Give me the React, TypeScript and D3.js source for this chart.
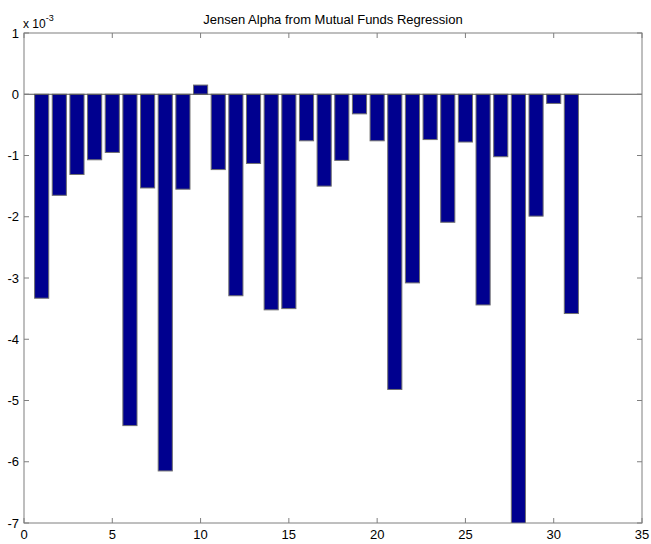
import React from "react";
import * as d3 from "d3";

const fundIndex: number[] = Array.from({ length: 31 }, (_, i) => i + 1);
const alphaValues: number[] = [
  -3.33, -1.65, -1.31, -1.07, -0.95, -5.41, -1.53, -6.15, -1.55, 0.15,
  -1.23, -3.29, -1.13, -3.52, -3.5, -0.76, -1.5, -1.08, -0.32, -0.76,
  -4.82, -3.08, -0.74, -2.09, -0.78, -3.44, -1.02, -7.3, -1.99, -0.15,
  -3.58,
];
const xTicks: number[] = [0, 5, 10, 15, 20, 25, 30, 35];
const yTicks: number[] = [1, 0, -1, -2, -3, -4, -5, -6, -7];
const titleText = "Jensen Alpha from Mutual Funds Regression";

const W = 651;
const H = 544;
const M = { left: 24, right: 642, top: 33, bottom: 523 };
const FONT = "'Liberation Sans', Arial, Helvetica, sans-serif";

export default function App() {
  const x = d3.scaleLinear().domain([0, 35]).range([M.left, M.right]);
  const y = d3.scaleLinear().domain([-7, 1]).range([M.bottom, M.top]);
  const barW = (x(1) - x(0)) * 0.8;
  const axisColor = "#7f7f7f";
  const tickLen = 5;

  return (
    <svg
      width={W}
      height={H}
      style={{ position: "absolute", left: 0, top: 0, background: "#fff" }}
      fontFamily={FONT}
    >
      <defs>
        <clipPath id="plotClip">
          <rect x={M.left} y={M.top} width={M.right - M.left} height={M.bottom - M.top} />
        </clipPath>
      </defs>
      <rect x={0} y={0} width={W} height={H} fill="#fff" />
      <g clipPath="url(#plotClip)">
        {fundIndex.map((f, i) => {
          const v = alphaValues[i];
          const y0 = y(0);
          const y1 = y(v);
          return (
            <rect
              key={f}
              x={x(f) - barW / 2}
              y={Math.min(y0, y1)}
              width={barW}
              height={Math.abs(y1 - y0)}
              fill="#00008f"
              stroke="#707070"
              strokeWidth={1}
            />
          );
        })}
        <line x1={M.left} x2={M.right} y1={y(0)} y2={y(0)} stroke="#555" strokeWidth={1} />
      </g>
      <rect
        x={M.left}
        y={M.top}
        width={M.right - M.left}
        height={M.bottom - M.top}
        fill="none"
        stroke={axisColor}
        strokeWidth={1}
      />
      {xTicks.map((t) => (
        <g key={"x" + t}>
          <line x1={x(t)} x2={x(t)} y1={M.bottom} y2={M.bottom - tickLen} stroke={axisColor} />
          <line x1={x(t)} x2={x(t)} y1={M.top} y2={M.top + tickLen} stroke={axisColor} />
          <text x={x(t)} y={539} textAnchor="middle" fontSize={13} fill="#000">
            {t}
          </text>
        </g>
      ))}
      {yTicks.map((t) => (
        <g key={"y" + t}>
          <line x1={M.left} x2={M.left + tickLen} y1={y(t)} y2={y(t)} stroke={axisColor} />
          <line x1={M.right} x2={M.right - tickLen} y1={y(t)} y2={y(t)} stroke={axisColor} />
          <text x={19} y={y(t) + 4.5} textAnchor="end" fontSize={13} fill="#000">
            {t}
          </text>
        </g>
      ))}
      <text x={23} y={28} fontSize={12} fill="#000">
        x 10
        <tspan dy={-7} fontSize={9}>
          -3
        </tspan>
      </text>
      <text x={(M.left + M.right) / 2} y={24} textAnchor="middle" fontSize={13} fill="#000">
        {titleText}
      </text>
    </svg>
  );
}
